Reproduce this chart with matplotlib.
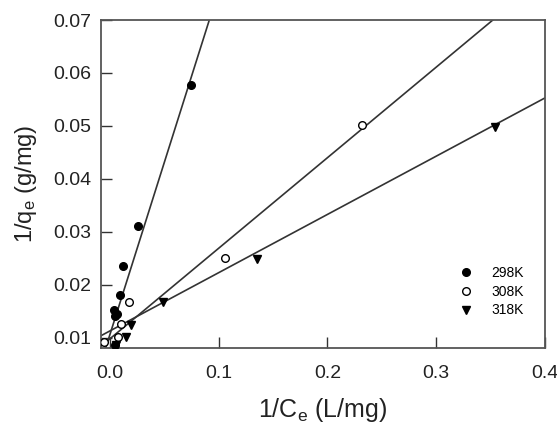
import matplotlib
matplotlib.use("Agg")
import matplotlib.pyplot as plt
import numpy as np

plt.rcParams['font.family'] = ['Liberation Sans', 'DejaVu Sans']
plt.rcParams['mathtext.fontset'] = 'custom'
plt.rcParams['mathtext.rm'] = 'Liberation Sans'
plt.rcParams['mathtext.default'] = 'regular'

# 298K
x298 = [0.0743, 0.0257, 0.0120, 0.0092, 0.0040, 0.0064, 0.0050, 0.0046]
y298 = [0.0577, 0.0311, 0.0236, 0.0181, 0.0153, 0.0146, 0.0141, 0.0087]
# 308K
x308 = [0.232, 0.106, 0.0174, 0.0100, 0.0073, -0.005]
y308 = [0.0502, 0.0251, 0.0168, 0.0126, 0.0102, 0.0092]
# 318K
x318 = [0.354, 0.135, 0.0486, 0.0200, 0.0147, 0.0060]
y318 = [0.0498, 0.0249, 0.0168, 0.0124, 0.0102, 0.0086]

# linear fits (slope, intercept)
fit298 = (0.650, 0.0105)
fit308 = (0.171, 0.0098)
fit318 = (0.110, 0.0113)

fig = plt.figure(figsize=(5.57, 4.23), dpi=100)
ax = fig.add_axes([0.1813, 0.1773, 0.7972, 0.7754])

xl = np.array([-0.008, 0.4])
lc = '#333333'
for s, b in (fit298, fit308, fit318):
    ax.plot(xl, s * xl + b, color=lc, linewidth=1.2, zorder=2)

ax.plot(x298, y298, 'o', color='black', markersize=5.5, label='298K', zorder=3)
ax.plot(x308, y308, 'o', color='black', markerfacecolor='white', markersize=5.5,
        markeredgewidth=1.0, label='308K', zorder=3)
ax.plot(x318, y318, 'v', color='black', markersize=5.5, label='318K', zorder=3)

ax.set_xlim(-0.008, 0.4)
ax.set_ylim(0.0081, 0.07)
ax.set_xticks([0.0, 0.1, 0.2, 0.3, 0.4])
ax.set_xticklabels(['0.0', '0.1', '0.2', '0.3', '0.4'])
ax.set_yticks([0.01, 0.02, 0.03, 0.04, 0.05, 0.06, 0.07])
ax.set_yticklabels(['0.01', '0.02', '0.03', '0.04', '0.05', '0.06', '0.07'])
ax.tick_params(direction='in', length=8, width=1, colors='#333333', labelsize=14,
               labelcolor='#222222')
ax.tick_params(axis='y', pad=7)
ax.tick_params(axis='x', pad=12)
for sp in ax.spines.values():
    sp.set_color('#555555')
    sp.set_linewidth(1.3)

ax.set_xlabel('1/C$_e$ (L/mg)', fontsize=18, color='#222222', labelpad=10)
ax.set_ylabel('1/q$_e$ (g/mg)', fontsize=17, color='#222222', labelpad=10)

ax.legend(loc='lower right', bbox_to_anchor=(0.98, 0.055), frameon=False, fontsize=10,
          handletextpad=0.8, labelspacing=0.35, markerscale=1.0)

fig.savefig('out.png', dpi=100)
